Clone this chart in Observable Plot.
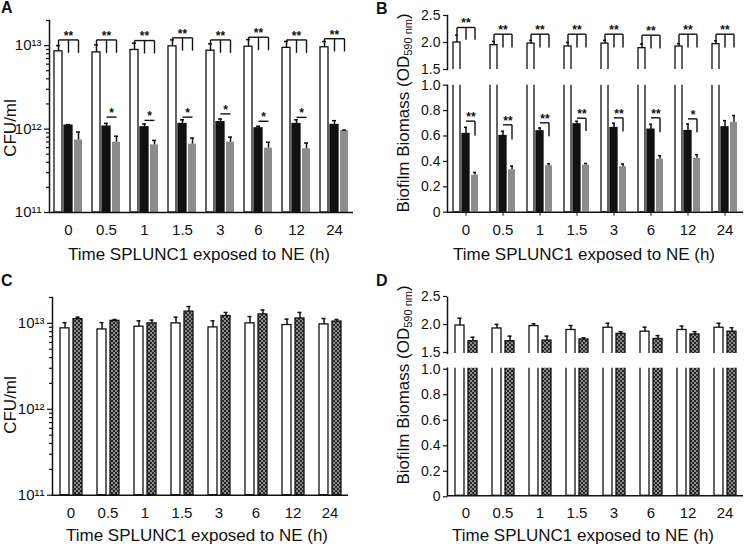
<!DOCTYPE html>
<html><head><meta charset="utf-8">
<script src="https://cdn.jsdelivr.net/npm/d3@7"></script>
<script src="https://cdn.jsdelivr.net/npm/@observablehq/plot@0.6"></script>
<style>
body{margin:0;background:#fff;}
#fig{position:relative;width:750px;height:544px;overflow:hidden;font-family:"Liberation Sans",Arial,sans-serif;color:#111;background:#fff;}
#fig svg{position:absolute;overflow:visible;}
.lbl{position:absolute;font-weight:bold;font-size:16px;line-height:1;}
.xt{position:absolute;font-size:17px;line-height:1;white-space:nowrap;transform:translate(-50%,-50%);}
.yt{position:absolute;font-size:17px;line-height:1;white-space:nowrap;transform:translate(-50%,-50%) rotate(-90deg);}
.yt sub{font-size:11px;vertical-align:-3px;}
</style></head><body><div id="fig"></div>
<script>
const FONT = "Liberation Sans, Arial, sans-serif";
const times = ["0","0.5","1","1.5","3","6","12","24"];

// Panel A (CFU/ml, log)
const aWhite    = [8.55e12, 8.3e12, 8.87e12, 9.8e12, 8.7e12, 9.7e12, 9.4e12, 9.55e12];
const aWhiteErr = [1.45e12, 1.9e12, 1.83e12, 1.9e12, 1.8e12, 2.1e12, 1.8e12, 1.65e12];
const aBlack    = [1.10e12, 1.07e12, 1.05e12, 1.15e12, 1.21e12, 1.02e12, 1.15e12, 1.12e12];
const aBlackErr = [0.03e12, 0.10e12, 0.10e12, 0.14e12, 0.11e12, 0.06e12, 0.14e12, 0.14e12];
const aGray     = [7.4e11, 6.95e11, 6.45e11, 6.6e11, 6.95e11, 5.9e11, 5.8e11, 9.6e11];
const aGrayErr  = [1.8e11, 1.25e11, 0.85e11, 1.2e11, 1.05e11, 1.05e11, 1.0e11, 0.1e11];
const aBracket  = [1.17e13, 1.17e13, 1.15e13, 1.24e13, 1.17e13, 1.26e13, 1.17e13, 1.21e13];
const aLeg      = [8.2e12, 8.2e12, 8.05e12, 8.7e12, 8.2e12, 8.8e12, 8.2e12, 8.5e12];
const aStar1    = [null, 1.39e12, 1.27e12, 1.39e12, 1.52e12, 1.24e12, 1.38e12, null];

// Panel B (biofilm OD, broken axis)
const bWhite    = [2.0, 1.95, 1.98, 1.926, 1.98, 1.895, 1.926, 1.97];
const bWhiteErr = [0.136, 0.07, 0.06, 0.074, 0.06, 0.075, 0.054, 0.06];
const bBlack    = [0.616, 0.600, 0.637, 0.692, 0.663, 0.650, 0.639, 0.668];
const bBlackErr = [0.052, 0.037, 0.026, 0.024, 0.037, 0.042, 0.056, 0.053];
const bGray     = [0.292, 0.334, 0.366, 0.371, 0.358, 0.418, 0.424, 0.708];
const bGrayErr  = [0.021, 0.029, 0.016, 0.013, 0.021, 0.027, 0.029, 0.053];
const bTopBracket = [2.278, 2.154, 2.154, 2.154, 2.154, 2.136, 2.154, 2.154];
const bTopLeg     = [2.05, 1.907, 1.907, 1.907, 1.907, 1.89, 1.907, 1.907];
const bBotBracket = [0.717, 0.688, 0.704, 0.740, 0.743, 0.743, 0.735, null];
const bBotLeg     = [0.604, 0.572, 0.599, 0.640, 0.635, 0.630, 0.630, null];
const bBotStars   = ["**", "**", "**", "**", "**", "**", "*", null];

// Panel C (CFU/ml, log)
const cWhite    = [8.75e12, 8.5e12, 9.15e12, 1.0e13, 8.98e12, 1.0e13, 9.56e12, 9.73e12];
const cWhiteErr = [1.45e12, 1.7e12, 1.55e12, 1.8e12, 1.72e12, 2.0e12, 1.64e12, 1.67e12];
const cHatch    = [1.12e13, 1.07e13, 1.0e13, 1.37e13, 1.22e13, 1.27e13, 1.14e13, 1.05e13];
const cHatchErr = [0.6e12, 0.4e12, 0.9e12, 2.0e12, 1.2e12, 1.6e12, 2.0e12, 0.6e12];

// Panel D (biofilm OD, broken axis)
const dWhite    = [2.0, 1.947, 1.99, 1.92, 1.96, 1.89, 1.92, 1.96];
const dWhiteErr = [0.13, 0.073, 0.04, 0.08, 0.08, 0.08, 0.07, 0.08];
const dHatch    = [1.72, 1.72, 1.73, 1.75, 1.85, 1.76, 1.84, 1.89];
const dHatchErr = [0.07, 0.09, 0.08, 0.03, 0.04, 0.06, 0.05, 0.07];

// Ticks
const logDomain = [1e11, 2e13];
const logMajor = [1e11, 1e12, 1e13];
const logLabels = ["10\u00B9\u00B9", "10\u00B9\u00B2", "10\u00B9\u00B3"];
const logMinor = [2e11,3e11,4e11,5e11,6e11,7e11,8e11,9e11,2e12,3e12,4e12,5e12,6e12,7e12,8e12,9e12,2e13];
const topTicks = [1.5, 2.0, 2.5];
const botTicks = [0, 0.2, 0.4, 0.6, 0.8, 1.0];
const ser3 = ["w", "b", "g"];
const ser2 = ["w", "h"];

const fig = document.getElementById("fig");
// hatch pattern definition
fig.insertAdjacentHTML("beforeend", `<svg width="0" height="0" style="position:absolute"><defs>
<pattern id="hatch" width="4" height="4" patternUnits="userSpaceOnUse">
<rect width="4" height="4" fill="#8a8a8a"/><rect width="2" height="2" fill="#2a2a2a"/><rect x="2" y="2" width="2" height="2" fill="#2a2a2a"/>
</pattern></defs></svg>`);

const rows = (s, v, e) => times.map((t, i) => ({t, s, v: v[i], e: e[i]}));
const INK = "#111";
const style = {background: "transparent", fontSize: "15px", fontFamily: FONT, color: INK, overflow: "visible"};

function bars(data, fill, stroke, base, clip) {
  return Plot.barY(data, {fx: "t", x: "s", y1: base, y2: "v", fill, stroke, strokeWidth: stroke ? 1.3 : 0, clip});
}
function errs(data, inset) {
  return [
    Plot.ruleX(data, {fx: "t", x: "s", y1: "v", y2: d => d.v + d.e, stroke: INK, strokeWidth: 1.5}),
    Plot.tickY(data, {fx: "t", x: "s", y: d => d.v + d.e, stroke: INK, strokeWidth: 1.5, insetLeft: inset, insetRight: inset})
  ];
}
function place(svg, left, top) {
  svg.style.left = left + "px"; svg.style.top = top + "px";
  fig.appendChild(svg);
}
function html(cls, text, left, top) {
  const d = document.createElement("div");
  d.className = cls; d.innerHTML = text;
  d.style.left = left + "px"; d.style.top = top + "px";
  fig.appendChild(d);
}
const yAxisLine = () => Plot.frame({anchor: "left", facetAnchor: "left", stroke: INK, strokeWidth: 1.5});
const logAxes = () => [
  Plot.axisY(logMinor, {tickSize: 3, tickFormat: () => "", label: null, stroke: INK, strokeWidth: 1.2}),
  Plot.axisY(logMajor, {tickSize: 5, tickPadding: 3, label: null, stroke: INK, strokeWidth: 1.2, fontSize: 15,
    tickFormat: d => logLabels[logMajor.indexOf(d)]})
];
const linAxis = (ticks, fmt, dy = 0) => Plot.axisY(ticks, {tickSize: 4, tickPadding: 3, label: null, stroke: INK, strokeWidth: 1.2, fontSize: 14, dy, tickFormat: fmt});
const fmtTop = d => d.toFixed(1);
const fmtBot = d => d === 0 ? "0" : d.toFixed(1);

// ---------- Panel A ----------
{
  const W = rows("w", aWhite, aWhiteErr), B = rows("b", aBlack, aBlackErr), G = rows("g", aGray, aGrayErr);
  const links = times.flatMap((t, i) => [
    {t, s1: "w", s2: "g", y1: aBracket[i], y2: aBracket[i]},
    {t, s1: "w", s2: "w", y1: aBracket[i], y2: aWhite[i] + aWhiteErr[i]},
    {t, s1: "b", s2: "b", y1: aBracket[i], y2: aLeg[i]},
    {t, s1: "g", s2: "g", y1: aBracket[i], y2: aLeg[i]}
  ]);
  const star1 = times.map((t, i) => ({t, y: aStar1[i]})).filter(d => d.y != null);
  const svg = Plot.plot({
    width: 375, height: 272, marginLeft: 49, marginRight: 22, marginTop: 20, marginBottom: 60, style,
    fx: {domain: times, padding: 0, axis: "bottom", tickSize: 0, tickPadding: 12, label: null},
    x: {domain: ser3, paddingInner: 0.2, paddingOuter: 0.5, axis: null},
    y: {type: "log", domain: logDomain, label: null},
    marks: [
      ...logAxes(), yAxisLine(),
      bars(W, "white", INK, logDomain[0], false),
      bars(B, INK, INK, logDomain[0], false),
      bars(G, "#8c8c8c", null, logDomain[0], false),
      ...errs(W, 2), ...errs(B, 2), ...errs(G, 2),
      Plot.ruleY([logDomain[0]], {stroke: INK, strokeWidth: 1.5}),
      Plot.link(links, {fx: "t", x1: "s1", x2: "s2", y1: "y1", y2: "y2", stroke: INK, strokeWidth: 1.4}),
      Plot.text(times, {fx: d => d, x: () => "b", y: (d, i) => aBracket[i], text: () => "**", dy: -4, fontSize: 12, fontWeight: "bold"}),
      Plot.link(star1, {fx: "t", x1: () => "b", x2: () => "g", y1: "y", y2: "y", stroke: INK, strokeWidth: 1.4}),
      Plot.text(star1, {fx: "t", x: () => "g", y: "y", text: () => "*", dx: -5, dy: -4, fontSize: 12, fontWeight: "bold"})
    ]
  });
  place(svg, 0, 0);
}

// ---------- Panel B ----------
{
  const W = rows("w", bWhite, bWhiteErr), B = rows("b", bBlack, bBlackErr), G = rows("g", bGray, bGrayErr);
  const common = {width: 375, marginLeft: 69, marginRight: 3.6, style,
    x: {domain: ser3, paddingInner: 0.2, paddingOuter: 0.5, axis: null}};
  const topLinks = times.flatMap((t, i) => [
    {t, s1: "w", s2: "g", y1: bTopBracket[i], y2: bTopBracket[i]},
    {t, s1: "w", s2: "w", y1: bTopBracket[i], y2: bWhite[i] + bWhiteErr[i]},
    {t, s1: "b", s2: "b", y1: bTopBracket[i], y2: bTopLeg[i]},
    {t, s1: "g", s2: "g", y1: bTopBracket[i], y2: bTopLeg[i]}
  ]);
  const top = Plot.plot({
    ...common, height: 80, marginTop: 15, marginBottom: 11,
    fx: {domain: times, padding: 0, axis: null},
    y: {domain: [1.5, 2.5], label: null},
    marks: [
      linAxis(topTicks, fmtTop), yAxisLine(),
      bars(W, "white", INK, 0, true),
      ...errs(W, 2),
      Plot.link(topLinks, {fx: "t", x1: "s1", x2: "s2", y1: "y1", y2: "y2", stroke: INK, strokeWidth: 1.4}),
      Plot.text(times, {fx: d => d, x: () => "b", y: (d, i) => bTopBracket[i], text: () => "**", dy: -4, fontSize: 12, fontWeight: "bold"})
    ]
  });
  place(top, 375, 0);
  const botRows = times.map((t, i) => ({t, y1: bBotBracket[i], y2: bBotLeg[i], s: bBotStars[i]})).filter(d => d.y1 != null);
  const botLinks = botRows.flatMap(d => [
    {t: d.t, s1: "b", s2: "g", y1: d.y1, y2: d.y1},
    {t: d.t, s1: "g", s2: "g", y1: d.y1, y2: d.y2}
  ]);
  const bot = Plot.plot({
    ...common, height: 192, marginTop: 4.7, marginBottom: 60.3,
    fx: {domain: times, padding: 0, axis: "bottom", tickSize: 4, tickPadding: 8, label: null},
    y: {domain: [0, 1.0], label: null},
    marks: [
      linAxis(botTicks, fmtBot), yAxisLine(),
      bars(W, "white", INK, 0, true),
      bars(B, INK, INK, 0, true),
      bars(G, "#8c8c8c", null, 0, true),
      ...errs(B, 2), ...errs(G, 2),
      Plot.ruleY([0], {stroke: INK, strokeWidth: 1.5}),
      Plot.link(botLinks, {fx: "t", x1: "s1", x2: "s2", y1: "y1", y2: "y2", stroke: INK, strokeWidth: 1.4}),
      Plot.text(botRows, {fx: "t", x: () => "g", y: "y1", text: "s", dx: -4, dy: -4, fontSize: 12, fontWeight: "bold"})
    ]
  });
  place(bot, 375, 80);
}

// ---------- Panel C ----------
{
  const W = rows("w", cWhite, cWhiteErr), H = rows("h", cHatch, cHatchErr);
  const svg = Plot.plot({
    width: 375, height: 272, marginLeft: 50, marginRight: 24.2, marginTop: 25, marginBottom: 49.3, style,
    fx: {domain: times, padding: 0, axis: "bottom", tickSize: 0, tickPadding: 12, label: null},
    x: {domain: ser2, paddingInner: 0.32, paddingOuter: 0.5, axis: null},
    y: {type: "log", domain: logDomain, label: null},
    marks: [
      ...logAxes(), yAxisLine(),
      bars(W, "white", INK, logDomain[0], false),
      bars(H, "url(#hatch)", INK, logDomain[0], false),
      ...errs(W, 2.5), ...errs(H, 2.5),
      Plot.ruleY([logDomain[0]], {stroke: INK, strokeWidth: 1.5})
    ]
  });
  place(svg, 0, 272);
}

// ---------- Panel D ----------
{
  const W = rows("w", dWhite, dWhiteErr), H = rows("h", dHatch, dHatchErr);
  const common = {width: 375, marginLeft: 69, marginRight: 3.6, style,
    x: {domain: ser2, paddingInner: 0.32, paddingOuter: 0.5, axis: null}};
  const top = Plot.plot({
    ...common, height: 90, marginTop: 25, marginBottom: 9,
    fx: {domain: times, padding: 0, axis: null},
    y: {domain: [1.5, 2.5], label: null},
    marks: [
      linAxis(topTicks, fmtTop, -1), yAxisLine(),
      bars(W, "white", INK, 0, true),
      bars(H, "url(#hatch)", INK, 0, true),
      ...errs(W, 2.5), ...errs(H, 2.5)
    ]
  });
  place(top, 375, 272);
  const bot = Plot.plot({
    ...common, height: 182, marginTop: 5.7, marginBottom: 48.7,
    fx: {domain: times, padding: 0, axis: "bottom", tickSize: 0, tickPadding: 12, label: null},
    y: {domain: [0, 1.0], label: null},
    marks: [
      linAxis(botTicks, fmtBot, 1), yAxisLine(),
      bars(W, "white", INK, 0, true),
      bars(H, "url(#hatch)", INK, 0, true),
      Plot.ruleY([0], {stroke: INK, strokeWidth: 1.5})
    ]
  });
  place(bot, 375, 362);
}

// ---------- Text: panel letters and axis titles ----------
const xTitle = "Time SPLUNC1 exposed to NE (h)";
const yCFU = "CFU/ml";
const yOD = "Biofilm Biomass (OD<sub>590 nm</sub>)";
html("lbl", "A", 1, 0);
html("lbl", "B", 376, 1);
html("lbl", "C", 1, 273);
html("lbl", "D", 376, 273);
html("xt", xTitle, 199, 254);
html("xt", xTitle, 584, 254);
html("xt", xTitle, 197, 535);
html("xt", xTitle, 583, 535);
html("yt", yCFU, 10, 128);
html("yt", yCFU, 10, 405);
html("yt", yOD, 404, 113);
html("yt", yOD, 404, 385);
</script></body></html>
